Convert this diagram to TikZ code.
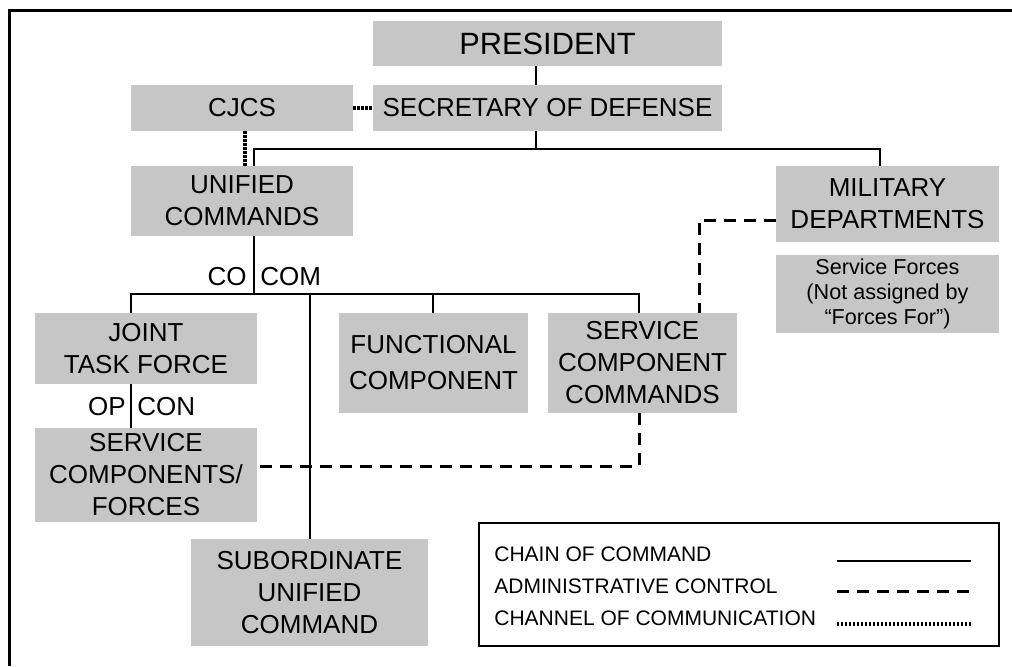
\documentclass[tikz,border=0pt]{standalone}
\usepackage{fontspec}
\setmainfont{Liberation Sans}
\definecolor{boxgray}{RGB}{198,198,198}
\begin{document}
\begin{tikzpicture}[x=0.5pt,y=-0.5pt,
  box/.style={fill=boxgray, inner sep=0pt, align=center, font=\fontsize{13}{16}\selectfont},
  cmd/.style={line width=1.4pt},
  adm/.style={line width=1.5pt, dash pattern=on 6pt off 4pt},
  comm/.style={line width=1.6pt, dash pattern=on 1.1pt off 0.9pt},
  lbl/.style={inner sep=0pt, font=\fontsize{13}{16}\selectfont},
  leg/.style={inner sep=0pt, anchor=base west, font=\fontsize{10.5}{12}\selectfont}]
\useasboundingbox (0,0) rectangle (1012,666);
% frame
\draw[line width=1.5pt] (9,666) -- (9,10) -- (1012,10);

% boxes
\node[box, minimum width=174.5pt, minimum height=22.5pt, font=\fontsize{15.4}{18}\selectfont] (pres) at (547.5,43.5) {PRESIDENT};
\node[box, minimum width=174.5pt, minimum height=23pt] (secdef) at (547.5,108) {SECRETARY OF DEFENSE};
\node[box, minimum width=111pt, minimum height=23pt] (cjcs) at (242,108) {CJCS};
\node[box, minimum width=111pt, minimum height=35pt] (unified) at (242,201) {UNIFIED\\COMMANDS};
\node[box, minimum width=111.5pt, minimum height=38pt] (mil) at (887.5,204) {MILITARY\\DEPARTMENTS};
\node[box, minimum width=111.5pt, minimum height=39pt, font=\fontsize{10.8}{12.5}\selectfont] (sf) at (887.5,294) {Service Forces\\(Not assigned by\\``Forces For'')};
\node[box, minimum width=111pt, minimum height=35.5pt] (jtf) at (146,348.5) {JOINT\\TASK FORCE};
\node[box, minimum width=94.5pt, minimum height=50pt, font=\fontsize{13}{18}\selectfont] (func) at (433.5,363) {FUNCTIONAL\\COMPONENT};
\node[box, minimum width=94.5pt, minimum height=50pt] (scc) at (642.5,363) {SERVICE\\COMPONENT\\COMMANDS};
\node[box, minimum width=111pt, minimum height=47pt] (scf) at (146,475) {SERVICE\\COMPONENTS/\\FORCES};
\node[box, minimum width=118.5pt, minimum height=53.5pt] (sub) at (309.5,592.5) {SUBORDINATE\\UNIFIED\\COMMAND};

% helper coordinates
\coordinate (xA) at (536,0);
\coordinate (xU) at (254,0);
\coordinate (xM) at (880,0);
\coordinate (yH) at (0,149);
\coordinate (xD) at (245,0);
\coordinate (yC) at (0,294);
\coordinate (xJ) at (131,0);
\coordinate (xS) at (310,0);
\coordinate (xF) at (433,0);
\coordinate (xC) at (639,0);
\coordinate (yA) at (0,466);
\coordinate (yM) at (0,220);
\coordinate (xN) at (699,0);

% chain of command
\draw[cmd] (pres.south -| xA) -- (secdef.north -| xA);
\draw[cmd] (secdef.south -| xA) -- (xA |- yH);
\draw[cmd] (unified.north -| xU) -- (xU |- yH) -- (xM |- yH) -- (mil.north -| xM);
\draw[cmd] (unified.south -| xU) -- (xU |- yC);
\draw[cmd] (jtf.north -| xJ) -- (xJ |- yC) -- (xC |- yC) -- (scc.north -| xC);
\draw[cmd] (xS |- yC) -- (sub.north -| xS);
\draw[cmd] (xF |- yC) -- (func.north -| xF);
\draw[cmd] (jtf.south -| xJ) -- (scf.north -| xJ);

% channel of communication
\draw[comm] (cjcs.east) -- (secdef.west);
\draw[comm] (cjcs.south -| xD) -- (unified.north -| xD);

% administrative control
\draw[adm] (scc.south -| xC) -- (xC |- yA) -- (scf.east |- yA);
\draw[adm] (mil.west |- yM) -- (xN |- yM) -- (scc.north -| xN);

% labels
\node[lbl, anchor=base east] (co) at (247,285) {CO};
\node[lbl, anchor=base west] (com) at (260,285) {COM};
\node[lbl, anchor=base east] (op) at (126,415) {OP};
\node[lbl, anchor=base west] (con) at (137,415) {CON};

% legend
\node[draw, line width=1pt, minimum width=260pt, minimum height=61.5pt, inner sep=0pt] (legend) at (739,584.5) {};
\node[leg] (l1) at (494,561) {CHAIN OF COMMAND};
\node[leg] (l2) at (494,593) {ADMINISTRATIVE CONTROL};
\node[leg] (l3) at (494,625) {CHANNEL OF COMMUNICATION};
\draw[cmd] (837,561) -- (971,561);
\draw[adm] (837,591) -- (971,591);
\draw[comm] (837,624) -- (971,624);
\end{tikzpicture}
\end{document}
